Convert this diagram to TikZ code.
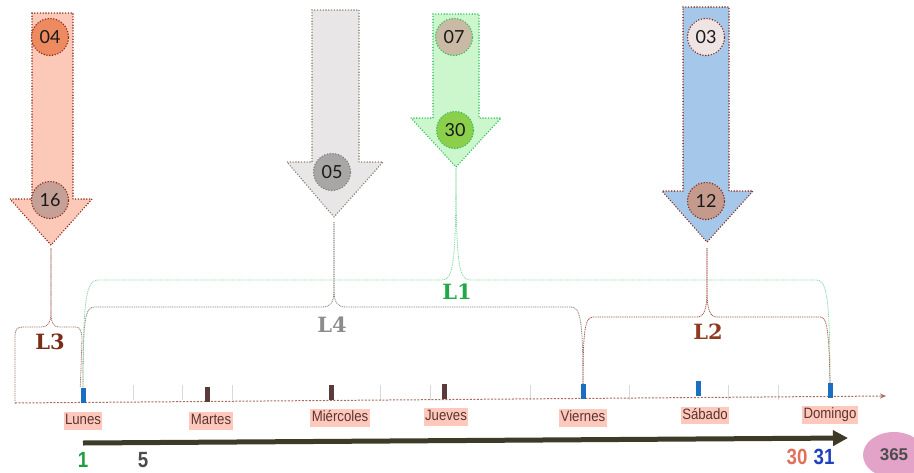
\documentclass[tikz,border=0pt]{standalone}
\usepackage{fontspec}
\setmainfont{Liberation Sans}
\newfontfamily\daysfont[FakeStretch=0.88]{Liberation Sans}
\newfontfamily\numfont[FakeStretch=0.85]{Liberation Sans}
\newfontfamily\slabfont{DejaVu Serif}
\newfontfamily\badgefont{Lato}
\usetikzlibrary{arrows.meta,shapes.geometric}

\definecolor{arrRed}{HTML}{FCC8B8}
\definecolor{arrGrey}{HTML}{E8E6E7}
\definecolor{arrGreen}{HTML}{CCF7CC}
\definecolor{arrBlue}{HTML}{A5C8EA}
\definecolor{edgeRed}{HTML}{8B2A1A}
\definecolor{edgeGrey}{HTML}{8C7F6C}
\definecolor{edgeGreen}{HTML}{2EC060}
\definecolor{braceRed}{HTML}{A86A5E}
\definecolor{braceGrey}{HTML}{8A7F78}
\definecolor{braceGreen}{HTML}{80D8A0}
\definecolor{braceBrown}{HTML}{A0503E}
\definecolor{labRed}{HTML}{7A2E1A}
\definecolor{labGrey}{HTML}{8C8C8C}
\definecolor{labGreen}{HTML}{20A84A}
\definecolor{labBrown}{HTML}{8E3A1F}
\definecolor{tickBlue}{HTML}{1A6FC0}
\definecolor{tickBrown}{HTML}{5A3A3A}
\definecolor{dayBg}{HTML}{FFC8BC}
\definecolor{dayTxt}{HTML}{5A3530}
\definecolor{runDark}{HTML}{3D3A28}
\definecolor{yearPink}{HTML}{E3A3C8}

\tikzset{
  dotborder/.style={line width=1.6pt, dash pattern=on 0pt off 2.8pt, line cap=round},
  badge/.style={circle, draw, dotborder, minimum size=37pt, inner sep=0pt,
    font=\badgefont\fontsize{18}{18}\selectfont, text=black!90},
  daytick/.style={minimum width=5pt, minimum height=15pt, inner sep=0pt},
  daylabel/.style={fill=dayBg, text=dayTxt, inner sep=1.5pt, text height=11pt, text depth=3.5pt,
    font=\daysfont\fontsize{15}{16}\selectfont},
  braceline/.style={line width=0.8pt, dash pattern=on 1pt off 0.8pt},
  bracelabel/.style={font=\slabfont\bfseries\fontsize{21}{21}\selectfont},
  numlabel/.style={inner sep=0pt, text depth=0pt, font=\numfont\bfseries\fontsize{22}{22}\selectfont},
  timeaxis/.style={line width=1pt, draw=braceRed, dash pattern=on 2pt off 1.5pt}
}

\begin{document}
\begin{tikzpicture}[x=1pt,y=-1pt]
\useasboundingbox (0,0) rectangle (914,472);
\clip (0,0) rectangle (914,472);

% arrows coming down
\draw [dotborder, draw=edgeRed, fill=arrRed] (32,13) -- (73,13) -- (73,199) -- (92,199) -- (51,245) -- (10,199) -- (32,199) -- cycle;
\draw [dotborder, draw=edgeGrey, fill=arrGrey] (312,10) -- (359,10) -- (359,162) -- (383,162) -- (334,217) -- (287,162) -- (312,162) -- cycle;
\draw [dotborder, draw=edgeGreen, fill=arrGreen] (433,14) -- (479,14) -- (479,118) -- (501,118) -- (456,167) -- (411,118) -- (433,118) -- cycle;
\draw [dotborder, draw=edgeRed, fill=arrBlue] (683,7) -- (729,7) -- (729,191) -- (753,191) -- (707,242) -- (662,191) -- (683,191) -- cycle;
\coordinate (tip3) at (51,248);
\coordinate (tip4) at (334,222);
\coordinate (tip1) at (456,168);
\coordinate (tip2) at (707,248);

\node [badge, draw=edgeRed, fill={rgb,255:red,238;green,138;blue,96}] (c04) at (50,37) {04};
\node [badge, draw=edgeRed, fill={rgb,255:red,196;green,160;blue,150}] (c16) at (50,200) {16};
\node [badge, draw=gray, fill={rgb,255:red,169;green,166;blue,166}] (c05) at (332,172) {05};
\node [badge, draw=edgeGreen, fill={rgb,255:red,201;green,185;blue,165}] (c07) at (454,37) {07};
\node [badge, draw=edgeGreen, fill={rgb,255:red,140;green,207;blue,74}] (c30) at (455,130) {30};
\node [badge, draw=edgeRed, fill={rgb,255:red,239;green,228;blue,228}] (c03) at (706,37) {03};
\node [badge, draw=edgeRed, fill={rgb,255:red,195;green,154;blue,140}] (c12) at (706,201) {12};

% the week
\coordinate (base0) at (15,403);
\coordinate (base1) at (886,396);
\foreach \gx in {133,182,232,380,430,530,629,728,778}
  \draw [black!15, line width=0.5pt] (\gx,385) -- (\gx,400);
\draw [timeaxis, -{Stealth[length=6pt,width=5pt]}] (base0) -- (base1);

\node [daytick, fill=tickBlue] (kLun) at (83,395) {};
\node [daytick, fill=tickBrown] (kMar) at (207,394) {};
\node [daytick, fill=tickBrown] (kMie) at (331,392) {};
\node [daytick, fill=tickBrown] (kJue) at (444,391) {};
\node [daytick, fill=tickBlue] (kVie) at (583,391.5) {};
\node [daytick, fill=tickBlue] (kSab) at (698,388.5) {};
\node [daytick, fill=tickBlue] (kDom) at (830,390.5) {};

\node [daylabel] (dLun) at (83,421) {Lunes};
\node [daylabel] (dMar) at (211,421) {Martes};
\node [daylabel] (dMie) at (340,418) {Miércoles};
\node [daylabel] (dJue) at (446,417) {Jueves};
\node [daylabel] (dVie) at (583,418) {Viernes};
\node [daylabel] (dSab) at (705,415.5) {Sábado};
\node [daylabel] (dDom) at (830,415) {Domingo};

% braces
\draw [braceline, draw=braceRed] (base0) -- (15,337) .. controls (15,329) and (17,327) .. (23,327) -- (42,327) .. controls (48,327) and (51,322) .. (51,312) -- (tip3);
\draw [braceline, draw=braceRed] (tip3) -- (51,312) .. controls (51,322) and (53,327) .. (59,327) -- (76,327) .. controls (80,327) and (82,331) .. (82,340) -- (kLun.north west);

\draw [braceline, draw=braceGrey] (kLun.north) .. controls (83,318) and (85,307) .. (95,307) -- (322,307) .. controls (331,307) and (334,302) .. (334,290) -- (tip4);
\draw [braceline, draw=braceGrey] (tip4) -- (334,290) .. controls (334,302) and (337,307) .. (346,307) -- (571,307) .. controls (580,307) and (583,318) .. (kVie.north);

\draw [braceline, draw=braceGreen] (kLun.north) .. controls (83,300) and (86,280) .. (98,280) -- (442,280) .. controls (453,280) and (456,265) .. (tip1);
\draw [braceline, draw=braceGreen] (tip1) .. controls (456,265) and (459,280) .. (470,280) -- (816,280) .. controls (826,280) and (830,292) .. (kDom.north);

\draw [braceline, draw=braceBrown] (kVie.north) .. controls (583,330) and (585,317) .. (593,317) -- (697,317) .. controls (704,317) and (707,310) .. (707,290) -- (tip2);
\draw [braceline, draw=braceBrown] (tip2) -- (707,290) .. controls (707,310) and (710,317) .. (717,317) -- (820,317) .. controls (827,317) and (829,330) .. (kDom.north);

\node [bracelabel, text=labRed] (lab3) at (50,342) {L3};
\node [bracelabel, text=labGrey] (lab4) at (332,325) {L4};
\node [bracelabel, text=labGreen] (lab1) at (457,292) {L1};
\node [bracelabel, text=labBrown] (lab2) at (708,332) {L2};

% days of the month
\coordinate (run0) at (83,443);
\coordinate (run1) at (848,438);
\draw [line width=5pt, draw=runDark, -{Triangle[length=15pt,width=15pt]}] (run0) -- (run1);

\node [numlabel, text={rgb,255:red,30;green,158;blue,62}] (n1) at (83,460) {1};
\node [numlabel, text=black!70] (n5) at (143,460) {5};
\node [numlabel, text={rgb,255:red,224;green,112;blue,90}] (n30) at (797,457) {30};
\node [numlabel, text={rgb,255:red,32;green,64;blue,192}] (n31) at (824,457) {31};

\node [ellipse, fill=yearPink, minimum width=62pt, minimum height=46pt, inner sep=0pt,
  font=\bfseries\fontsize{17}{17}\selectfont, text=black!70] (year) at (894,455) {365};
\end{tikzpicture}
\end{document}
